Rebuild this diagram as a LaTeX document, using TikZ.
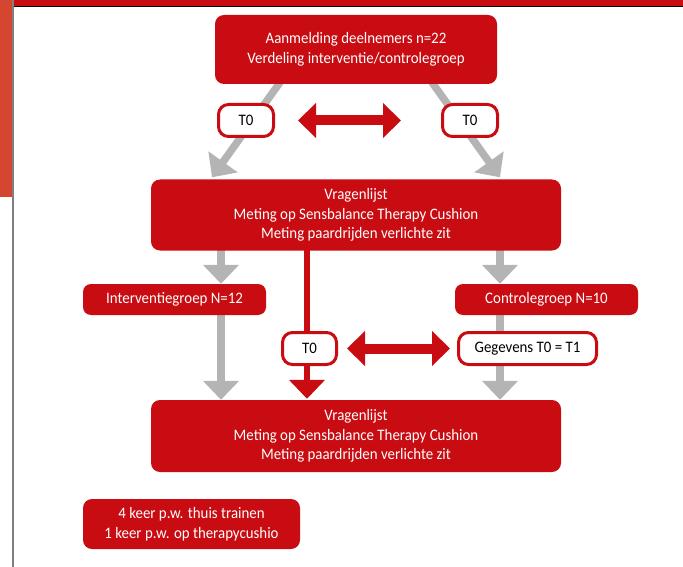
\documentclass[tikz,border=0pt]{standalone}
\usepackage{fontspec}
\setmainfont{Carlito}[FakeStretch=0.93]
\usetikzlibrary{arrows.meta}
\pgfdeclarelayer{bg}
\pgfsetlayers{bg,main}
\definecolor{boxred}{HTML}{C80C12}
\definecolor{arrgray}{HTML}{B4B4B4}
\definecolor{stripor}{HTML}{D4462F}
\definecolor{edgegray}{HTML}{7F7F7F}
\begin{document}
\begin{tikzpicture}[x=1pt,y=-1pt,
  redbox/.style={fill=boxred, rounded corners=9pt, text=white, align=center,
    font=\fontsize{16}{19.8}\selectfont, inner sep=0pt},
  tbox/.style={draw=boxred, line width=3pt, fill=white, rounded corners=10pt,
    text=black, font=\fontsize{16}{19.8}\selectfont, inner sep=0pt},
  grayarr/.style={draw=arrgray, line width=7.5pt, -{Triangle[length=19pt,width=35pt]}},
  redarr/.style={draw=boxred, line width=6pt, -{Triangle[length=19pt,width=35pt]}},
  dblarr/.style={draw=boxred, line width=10pt,
    {Triangle[length=18pt,width=34pt]}-{Triangle[length=18pt,width=34pt]}}]
\useasboundingbox (0,0) rectangle (683,567);
% page frame
\fill[boxred] (13,0) rectangle (683,6);
\draw[black, line width=1.2pt] (13,6.6) -- (683,6.6);
\fill[stripor] (0,0) rectangle (11.5,197);
\fill[edgegray] (11.5,0) rectangle (13.5,567);
% boxes
\node[redbox, minimum width=282pt, minimum height=69pt] (top) at (356,49.5)
  {Aanmelding deelnemers n=22\\Verdeling interventie/controlegroep};
\node[tbox, minimum width=55pt, minimum height=32pt] (t0l) at (246,120.5) {T0};
\node[tbox, minimum width=55pt, minimum height=32pt] (t0r) at (470,120.5) {T0};
\node[redbox, minimum width=410pt, minimum height=71pt] (mid) at (356,215)
  {Vragenlijst\\Meting op Sensbalance Therapy Cushion\\Meting paardrijden verlichte zit};
\node[redbox, rounded corners=8pt, minimum width=183pt, minimum height=31pt] (interv) at (174.5,299.5)
  {Interventiegroep N=12};
\node[redbox, rounded corners=8pt, minimum width=183pt, minimum height=31pt] (contr) at (546.5,299.5)
  {Controlegroep N=10};
\node[tbox, minimum width=54pt, minimum height=32pt] (t0m) at (309.5,348.5) {T0};
\node[tbox, minimum width=138pt, minimum height=32pt] (geg) at (527.5,348.5) {Gegevens T0 = T1};
\node[redbox, minimum width=410pt, minimum height=72pt] (low) at (356,436)
  {Vragenlijst\\Meting op Sensbalance Therapy Cushion\\Meting paardrijden verlichte zit};
\node[redbox, minimum width=217pt, minimum height=50pt] (bl) at (191.5,524)
  {4 keer p.w. thuis trainen\\1 keer p.w. op therapycushio};
% connectors
\begin{pgfonlayer}{bg}
\draw[grayarr] ([xshift=-73pt,yshift=6pt]top.south) -- ([xshift=-144pt,yshift=2pt]mid.north);
\draw[grayarr] ([xshift=73pt,yshift=6pt]top.south) -- ([xshift=144pt,yshift=2pt]mid.north);
\draw[grayarr] ([xshift=-135pt,yshift=4pt]mid.south) -- ([xshift=46.5pt]interv.north);
\draw[grayarr] ([xshift=144pt,yshift=4pt]mid.south) -- ([xshift=-46.5pt]contr.north);
\draw[grayarr] ([xshift=46.5pt,yshift=4pt]interv.south) -- ([xshift=-135pt]low.north);
\draw[grayarr] ([xshift=-46.5pt,yshift=4pt]contr.south) -- ([xshift=144pt]low.north);
\draw[redarr] ([xshift=-49pt,yshift=4pt]mid.south) -- ([xshift=-49pt,yshift=1pt]low.north);
\end{pgfonlayer}
\draw[dblarr] ([xshift=23pt]t0l.east) -- ([xshift=-40pt]t0r.west);
\draw[dblarr] ([xshift=9pt]t0m.east) -- ([xshift=-7pt]geg.west);
\end{tikzpicture}
\end{document}
